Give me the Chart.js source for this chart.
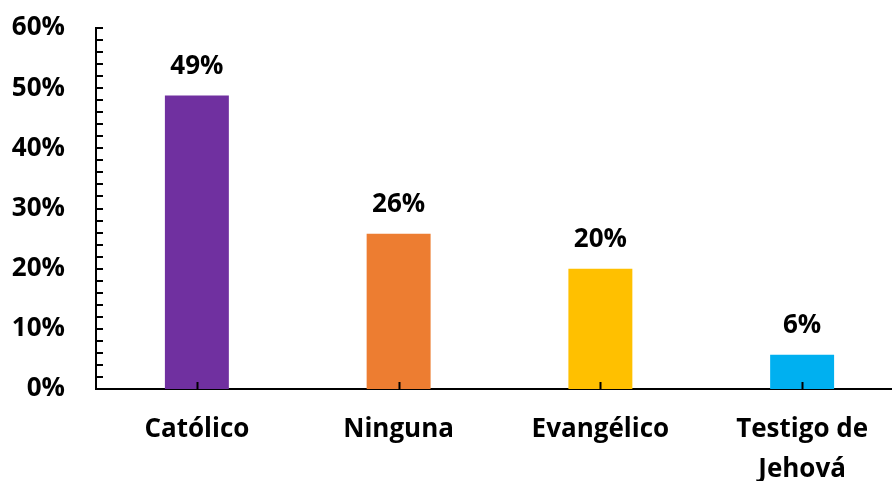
<!DOCTYPE html>
<html>
<head>
<meta charset="utf-8">
<script src="https://cdn.jsdelivr.net/npm/chart.js@4.4.1/dist/chart.umd.min.js"></script>
<style>
  html, body { margin: 0; padding: 0; background: #fff; }
  #wrap { width: 892px; height: 481px; overflow: hidden; }
</style>
</head>
<body>
<div id="wrap">
  <canvas id="chart" width="903" height="481" style="width:903px;height:481px"></canvas>
</div>
<script>
// religion share
const categories = ['Católico', 'Ninguna', 'Evangélico', ['Testigo de', 'Jehová']]
const values = [48.8, 25.8, 20.0, 5.7]
const valueLabels = ['49%', '26%', '20%', '6%']
const barColors = ['#7030A0', '#ED7D31', '#FFC000', '#00B0F0']

const FONT = '"Open Sans", sans-serif'

// value labels over bars + inward axis ticks (Excel style)
const extras = {
  id: 'extras',
  afterDatasetsDraw(chart) {
    const ctx = chart.ctx
    const meta = chart.getDatasetMeta(0)
    ctx.save()
    ctx.fillStyle = '#000'
    ctx.font = 'bold 26px ' + FONT
    ctx.textAlign = 'center'
    ctx.textBaseline = 'middle'
    meta.data.forEach((bar, i) => {
      ctx.fillText(valueLabels[i], bar.x, bar.y - 29)
    })

    const y = chart.scales.y
    const x = chart.scales.x
    ctx.strokeStyle = '#000'
    ctx.lineWidth = 2
    ctx.beginPath()
    for (let v = 0; v <= 60; v += 2) {
      const py = Math.round(y.getPixelForValue(v))
      ctx.moveTo(x.left, py)
      ctx.lineTo(x.left + 7, py)
    }
    for (let i = 0; i < categories.length; i++) {
      const px = Math.round(x.getPixelForValue(i)) + 0.5
      ctx.moveTo(px, y.bottom)
      ctx.lineTo(px, y.bottom - 7)
    }
    ctx.stroke()
    ctx.restore()
  }
}

const config = {
  type: 'bar',
  data: {
    labels: categories,
    datasets: [
      {
        data: values,
        backgroundColor: barColors,
        categoryPercentage: 1,
        barPercentage: 0.317,
      },
    ],
  },
  options: {
    responsive: false,
    animation: false,
    layout: { padding: { top: 28, right: 0, bottom: 0, left: 0 } },
    plugins: {
      legend: { display: false },
      tooltip: { enabled: false },
    },
    scales: {
      y: {
        min: 0,
        max: 60,
        afterFit: (s) => { s.width = 96; s.paddingTop = 0; s.paddingBottom = 0 },
        grid: { display: false, drawTicks: false },
        border: { display: true, color: '#000', width: 2 },
        ticks: {
          stepSize: 10,
          padding: 31,
          color: '#000',
          font: { family: FONT, size: 26, weight: 'bold' },
          callback: (v) => v + '%',
        },
      },
      x: {
        afterFit: (s) => { s.height = 92 },
        grid: { display: false, drawTicks: false },
        border: { display: true, color: '#000', width: 2 },
        ticks: {
          padding: 21,
          color: '#000',
          maxRotation: 0,
          font: { family: FONT, size: 26, weight: 'bold', lineHeight: 1.54 },
        },
      },
    },
  },
  plugins: [extras],
}

const ctx = document.getElementById('chart')
window.myBar = new Chart(ctx, config)
</script>
</body>
</html>
